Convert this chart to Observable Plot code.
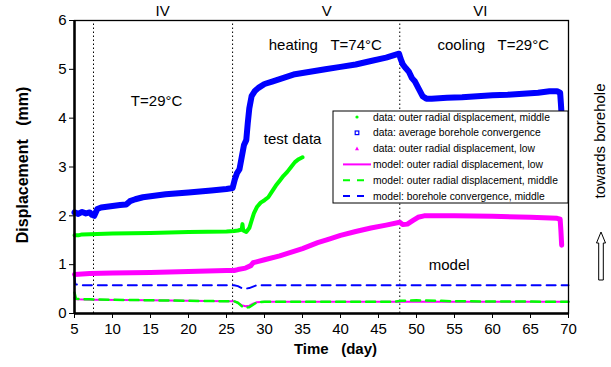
<!DOCTYPE html>
<html><head><meta charset="utf-8">
<script src="https://cdn.jsdelivr.net/npm/d3@7"></script>
<script src="https://cdn.jsdelivr.net/npm/@observablehq/plot@0.6"></script>
<style>
body{margin:0;background:#fff;font-family:"Liberation Sans",Arial,sans-serif}
#wrap{position:relative;width:611px;height:367px}
#legend{position:absolute;left:0;top:0}
</style></head><body><div id="wrap"></div>
<script>
// ---- data ----
const xTicks = [5,10,15,20,25,30,35,40,45,50,55,60,65,70];
const yTicks = [0,1,2,3,4,5,6];
const phaseBounds = [7.5, 25.8, 47.8];
const phaseNames = ["IV","V","VI"];
const phaseNameDays = [16.6, 38.2, 58.4];

const blueDays = [5,5.5,6,6.5,7,7.3,7.6,8,8.5,9,10,11,11.8,12.3,13,14,15,17,20,23,25,25.8,26.1,26.4,26.7,27,27.3,27.6,27.8,28,28.3,28.7,29.2,30,31,32,34,36,38,40,42,44,46,47.7,47.9,48.2,48.6,49,49.4,49.8,50.3,50.8,51.3,52,54,56,58,60,62,64,66,67.5,68.5,68.9,69,69.1];
const blueVals = [2.07,2.04,2.08,2.05,2.07,2.02,2.0,2.14,2.17,2.18,2.2,2.22,2.23,2.3,2.34,2.38,2.4,2.44,2.48,2.52,2.55,2.57,2.75,2.88,2.95,3.2,3.45,3.55,3.9,4.2,4.45,4.55,4.62,4.7,4.75,4.8,4.9,4.95,5.0,5.05,5.1,5.17,5.24,5.32,5.22,5.1,5.02,4.95,4.82,4.75,4.6,4.45,4.4,4.4,4.42,4.43,4.45,4.47,4.48,4.5,4.52,4.55,4.55,4.52,4.3,4.05];

const greenDays = [5,5.5,6,8,10,15,20,25,26,26.5,27,27.1,27.2,27.6,28,28.3,28.6,29,29.5,30,30.5,31,31.5,32,32.5,33,33.5,34,34.5,35];
const greenVals = [1.6,1.6,1.62,1.63,1.64,1.65,1.67,1.68,1.69,1.7,1.72,1.83,1.7,1.67,1.75,1.9,2.05,2.18,2.27,2.32,2.38,2.5,2.62,2.72,2.82,2.9,3.0,3.1,3.16,3.2];

const magDays = [5,7,10,15,20,25,26,26.5,27.5,28.2,28.5,30,32,35,37,38.6,40,42,44,46,47.8,48.2,48.8,49.5,50.2,51,55,60,65,68.5,68.9,69,69.1];
const magVals = [0.8,0.82,0.83,0.84,0.86,0.88,0.88,0.9,0.93,0.98,1.04,1.1,1.18,1.33,1.45,1.53,1.6,1.68,1.75,1.81,1.87,1.82,1.83,1.9,1.97,2.0,2.0,1.99,1.97,1.95,1.93,1.7,1.4];

const mBlueDays = [5,5.1,6,26,26.5,27,27.5,28,28.5,29,70];
const mBlueVals = [0.75,0.6,0.58,0.58,0.56,0.52,0.51,0.52,0.55,0.58,0.58];

const mMagDays = [5,5.3,7.5,15,25,26,26.5,27,27.5,28,28.5,29,30,70];
const mMagVals = [0.32,0.29,0.28,0.27,0.25,0.25,0.22,0.17,0.15,0.16,0.2,0.23,0.24,0.24];

const mGreenDays = [5,5.2,7,15,25,26,26.5,27,27.5,28,28.5,29,30,47,48,50,53,55,70];
const mGreenVals = [0.43,0.3,0.29,0.27,0.25,0.25,0.22,0.15,0.12,0.13,0.18,0.23,0.24,0.24,0.26,0.27,0.26,0.25,0.24];

const legendLabels = [
  "data: outer radial displacement, middle",
  "data: average borehole convergence",
  "data: outer radial displacement, low",
  "model: outer radial displacement, low",
  "model: outer radial displacement, middle",
  "model: borehole convergence, middle"
];

const notes = ["heating\u00a0\u00a0\u00a0T=74°C","cooling\u00a0\u00a0\u00a0T=29°C","T=29°C","test data","model"];
const noteDays = [38.0, 60.1, 15.8, 33.7, 54.3];
const noteVals = [5.49, 5.49, 4.34, 3.57, 0.98];

// ---- build ----
const rows = (d,v) => d.map((x,i) => ({x, y: v[i]}));
const BLUE = "#0000ff", GREEN = "#00ff00", MAG = "#ff00ff";
const font = "Liberation Sans, Arial, sans-serif";

const chart = Plot.plot({
  width: 611, height: 367,
  marginLeft: 74, marginRight: 43, marginTop: 20, marginBottom: 54,
  style: {fontFamily: font, fontSize: "15px", background: "white", color: "black"},
  x: {domain: [5, 70], ticks: xTicks, tickSize: 5, tickPadding: 5, tickFormat: d3.format("d"), label: null},
  y: {domain: [0, 6], ticks: yTicks, tickSize: 5, tickPadding: 3, tickFormat: d3.format("d"), label: null},
  marks: [
    Plot.ruleX(phaseBounds, {y1: 0, y2: 6, stroke: "black", strokeWidth: 1, strokeDasharray: "1.5,2.5"}),
    Plot.line(rows(mBlueDays, mBlueVals), {x: "x", y: "y", stroke: BLUE, strokeWidth: 2, strokeDasharray: "9,6"}),
    Plot.line(rows(mMagDays, mMagVals), {x: "x", y: "y", stroke: MAG, strokeWidth: 2}),
    Plot.line(rows(mGreenDays, mGreenVals), {x: "x", y: "y", stroke: GREEN, strokeWidth: 2.5, strokeDasharray: "9,6"}),
    Plot.line(rows(magDays, magVals), {x: "x", y: "y", stroke: MAG, strokeWidth: 5}),
    Plot.line(rows(greenDays, greenVals), {x: "x", y: "y", stroke: GREEN, strokeWidth: 4}),
    Plot.line(rows(blueDays, blueVals), {x: "x", y: "y", stroke: BLUE, strokeWidth: 6}),
    Plot.frame({stroke: "black", strokeWidth: 1.3}),
    Plot.ruleX([5], {stroke: "black", strokeWidth: 2.5}),
    Plot.ruleY([0], {stroke: "black", strokeWidth: 2.5}),
    Plot.text(phaseNames, {x: (d,i) => phaseNameDays[i], y: 6, dy: -9, text: d => d, fontSize: 15}),
    Plot.text(notes, {x: (d,i) => noteDays[i], y: (d,i) => noteVals[i], text: d => d, fontSize: 15}),
    Plot.text(["Displacement\u00a0\u00a0\u00a0(mm)"], {frameAnchor: "left", dx: -52, dy: -2, rotate: -90, textAnchor: "middle", text: d => d, fontWeight: "bold", fontSize: 16}),
    Plot.text(["Time\u00a0\u00a0\u00a0(day)"], {frameAnchor: "bottom", dx: 14, dy: 40, textAnchor: "middle", text: d => d, fontWeight: "bold", fontSize: 15}),
    Plot.text(["towards borehole"], {frameAnchor: "right", dx: 32, dy: -26, rotate: -90, textAnchor: "middle", text: d => d, fontSize: 15})
  ]
});
const wrap = document.getElementById("wrap");
wrap.appendChild(chart);

// legend overlay
const svg = d3.select(wrap).append("svg").attr("id", "legend").attr("width", 611).attr("height", 367);
const lx = 333, ly = 111, lw = 235, lh = 92;
svg.append("rect").attr("x", lx).attr("y", ly).attr("width", lw).attr("height", lh)
  .attr("fill", "white").attr("stroke", "black").attr("stroke-width", 1);
const rowY = i => ly + 6 + i * 15.8;
const colors = [GREEN, BLUE, MAG, MAG, GREEN, BLUE];
legendLabels.forEach((t, i) => {
  const y = rowY(i);
  const cx = 357;
  if (i === 0) svg.append("circle").attr("cx", cx).attr("cy", y).attr("r", 1.6).attr("fill", GREEN);
  else if (i === 1) svg.append("rect").attr("x", cx - 1.8).attr("y", y - 1.8).attr("width", 3.6).attr("height", 3.6).attr("fill", "none").attr("stroke", BLUE).attr("stroke-width", 1.2);
  else if (i === 2) svg.append("path").attr("d", `M${cx},${y-2.2}L${cx+2},${y+1.6}L${cx-2},${y+1.6}Z`).attr("fill", MAG);
  else {
    const ln = svg.append("line").attr("x1", 343).attr("x2", 371).attr("y1", y).attr("y2", y)
      .attr("stroke", colors[i]).attr("stroke-width", 2);
    if (i > 3) ln.attr("stroke-dasharray", "7,7");
  }
  svg.append("text").attr("x", 373).attr("y", y).attr("dy", "0.35em")
    .attr("font-family", font).attr("font-size", 10.3).attr("fill", "black").text(t);
});
// hollow arrow
svg.append("path")
  .attr("d", "M601,232 L605.5,243 L603.3,243 L603.3,280 L598.7,280 L598.7,243 L596.5,243 Z")
  .attr("fill", "white").attr("stroke", "black").attr("stroke-width", 1);
</script>
</body></html>
